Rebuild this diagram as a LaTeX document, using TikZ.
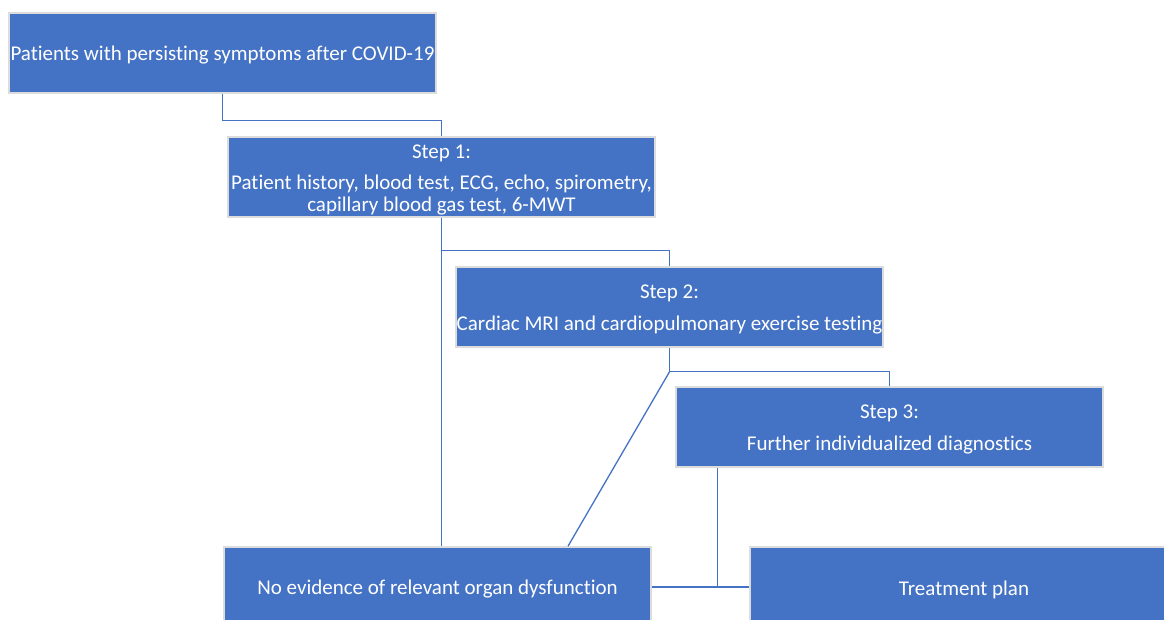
\documentclass[tikz,border=0pt]{standalone}
\usepackage{fontspec}
\setmainfont{Carlito}[Ligatures=NoCommon]
\usetikzlibrary{calc}
\definecolor{boxblue}{HTML}{4472C4}
\definecolor{boxedge}{HTML}{DCDCDC}
\begin{document}
\begin{tikzpicture}[x=1pt,y=-1pt,
  box/.style={draw=boxedge, line width=1.6pt, fill=boxblue,
    minimum width=427pt, minimum height=80pt, inner sep=0pt},
  boxtext/.style={text=white, align=center, inner sep=0pt, yshift=-2.5pt,
    font=\fontsize{21}{22}\selectfont},
  link/.style={draw=boxblue, line width=1.3pt}]
\useasboundingbox (0,0) rectangle (1164,620);
\clip (0,0) rectangle (1164,620);
\node[box, label={[boxtext]center:Patients with persisting symptoms after COVID-19}] (a) at (222.5,53) {};
\node[box, label={[boxtext]center:{Step 1:\\[9pt]Patient history, blood test, ECG, echo, spirometry,\\capillary blood gas test, 6-MWT}}] (s1) at (441.5,177) {};
\node[box, label={[boxtext]center:{Step 2:\\[10pt]Cardiac MRI and cardiopulmonary exercise testing}}] (s2) at (669.5,307) {};
\node[box, label={[boxtext]center:{Step 3:\\[10pt]Further individualized diagnostics}}] (s3) at (889.5,427) {};
\node[box, label={[boxtext]center:No evidence of relevant organ dysfunction}] (no) at (437.5,587) {};
\node[box, minimum width=428pt, label={[boxtext]center:Treatment plan}] (tp) at (964,587) {};
\coordinate (s2fork) at ($(s2.south)+(0,24)$);
\coordinate (nohit) at ([xshift=130.5pt]no.north);
\coordinate (s3out) at ([xshift=42pt]s3.south west);
\draw[link] (a.south) -- ++(0,27) -| (s1.north);
\draw[link] (s1.south) -- (s1.south |- no.north);
\draw[link] (s1.south) ++(0,33) -| (s2.north);
\draw[link] (s2.south) -- (s2fork) -| (s3.north);
\draw[link] (s2fork) -- (nohit);
\draw[link] (no.east) -- (tp.west);
\draw[link] (s3out) -- (s3out |- no.east);
\end{tikzpicture}
\end{document}
